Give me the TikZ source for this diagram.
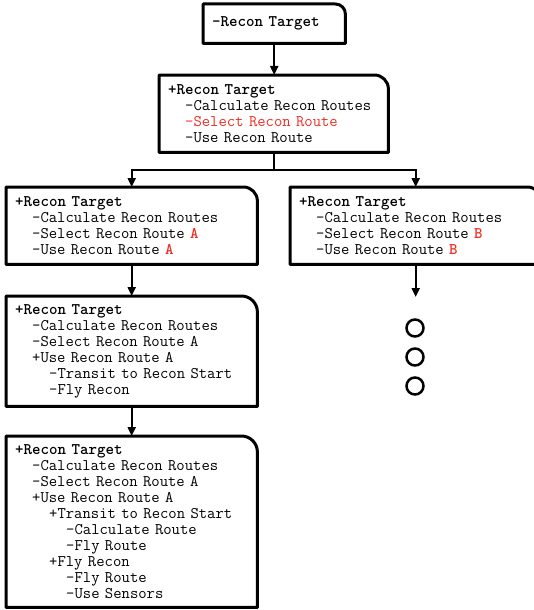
\documentclass[tikz,border=0pt]{standalone}
\usepackage{fontspec}
\usetikzlibrary{arrows.meta}
\usetikzlibrary{positioning}
\definecolor{pick}{RGB}{240,45,35}
\newcommand{\lvl}[1]{\hspace*{#1\dimexpr 1.05em\relax}}
\newcommand{\cardframe}[2][14pt]{\draw[frame] (#2.south west) -- (#2.north west) -- ([xshift=-#1]#2.north east) arc[start angle=90,end angle=0,radius=#1] -- (#2.south east) -- cycle;}

\begin{document}
\begin{tikzpicture}[x=1pt,y=-1pt,
		card/.style={anchor=north west,inner xsep=9pt,inner ysep=0pt,align=left,font=\ttfamily\fontsize{16.2}{16}\selectfont},
		frame/.style={line width=3pt,line join=round},
		link/.style={line width=2pt,-{Triangle[length=9pt,width=8pt]}},
		dot/.style={circle,draw,line width=2.5pt,minimum size=17pt,inner sep=0pt}]
		\useasboundingbox (0,0) rectangle (534,610);
		% cards
		\node[card,text width=124pt,minimum height=39pt] (root) at (203,4) {\textbf{-Recon Target}};
		\node[card,text width=211pt,minimum height=77pt] (expand) at (159,75) {\textbf{+Recon Target}\\
			\lvl1-Calculate Recon Routes\\
			\lvl1\textcolor{pick}{-Select Recon Route}\\
			\lvl1-Use Recon Route};
		\node[card,text width=233pt,minimum height=77pt] (routeA) at (6,187) {\textbf{+Recon Target}\\
			\lvl1-Calculate Recon Routes\\
			\lvl1-Select Recon Route \textcolor{pick}{\textbf{A}}\\
			\lvl1-Use Recon Route \textcolor{pick}{\textbf{A}}};
		\node[card,text width=233pt,minimum height=77pt] (routeB) at (290,187) {\textbf{+Recon Target}\\
			\lvl1-Calculate Recon Routes\\
			\lvl1-Select Recon Route \textcolor{pick}{\textbf{B}}\\
			\lvl1-Use Recon Route \textcolor{pick}{\textbf{B}}};
		\node[card,text width=233pt,minimum height=110pt] (useA) at (6,296) {\textbf{+Recon Target}\\
			\lvl1-Calculate Recon Routes\\
			\lvl1-Select Recon Route A\\
			\lvl1+Use Recon Route A\\
			\lvl2-Transit to Recon Start\\
			\lvl2-Fly Recon};
		\node[card,text width=233pt,minimum height=171pt] (flyA) at (6,436) {\textbf{+Recon Target}\\
			\lvl1-Calculate Recon Routes\\
			\lvl1-Select Recon Route A\\
			\lvl1+Use Recon Route A\\
			\lvl2+Transit to Recon Start\\
			\lvl3-Calculate Route\\
			\lvl3-Fly Route\\
			\lvl2+Fly Recon\\
			\lvl3-Fly Route\\
			\lvl3-Use Sensors};
		\cardframe[10pt]{root}
		\cardframe{expand}
		\cardframe{routeA}
		\cardframe{routeB}
		\cardframe[16pt]{useA}
		\cardframe[16pt]{flyA}
		% links
		\draw[link] (root.south) -- (root.south |- expand.north);
		\coordinate (fork) at ([yshift=-18pt]expand.south);
		\draw[line width=2pt] (expand.south) -- (fork);
		\draw[link] (fork) -| (routeA.north);
		\draw[link] (fork) -| (routeB.north);
		\coordinate (more) at (415,297);
		\draw[link] (routeB.south) -- (routeB.south |- more);
		\draw[link] (routeA.south) -- (useA.north);
		\draw[link] (useA.south) -- (flyA.north);
		\foreach \y [count=\i] in {328,357,386}
			\node[dot] (dot\i) at (415,\y) {};
\end{tikzpicture}
\end{document}
